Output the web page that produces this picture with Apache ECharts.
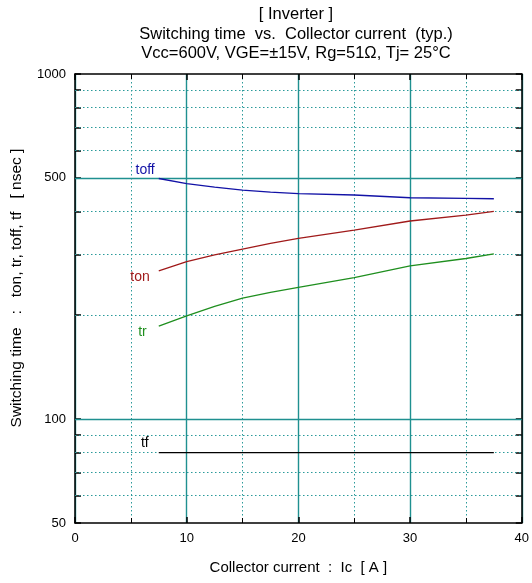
<!DOCTYPE html>
<html><head><meta charset="utf-8">
<script src="https://cdn.jsdelivr.net/npm/echarts@6/dist/echarts.min.js"></script>
<style>html,body{margin:0;padding:0;background:#fff}#c{width:532px;height:583px}</style>
</head><body><div id="c"></div>
<script>
// Collector current [A]
const current = [7.5, 10, 12.5, 15, 17.5, 20, 25, 30, 35, 37.5];
// Switching times [nsec]
const toff = [498, 481, 470, 461, 455, 450, 446, 438, 436, 435];
const ton  = [269, 286, 299, 311, 323, 334, 353, 375, 390, 400];
const tr   = [186, 199, 212, 224, 233, 241, 257, 278, 292, 301];
const tf   = [80, 80, 80, 80, 80, 80, 80, 80, 80, 80];
// Axis tick values
const yTickLabels = [50, 100, 500, 1000];
const yMajorGrid = [100, 500];
const yMinorGrid = [60, 70, 80, 90, 200, 300, 400, 600, 700, 800, 900];
const yAllTicks = [50, 60, 70, 80, 90, 100, 200, 300, 400, 500, 600, 700, 800, 900, 1000];

const FONT = "'Liberation Sans', Arial, sans-serif";
const TEAL = '#1f9090';
const TEALDOT = '#2a9a9a';

function mk(vals, labelCfg) {
  const d = current.map((x, i) => [x, vals[i]]);
  d[0] = { value: d[0], label: Object.assign({ show: true, formatter: '{a}', fontFamily: FONT, fontSize: 14 }, labelCfg) };
  return d;
}

const chart = echarts.init(document.getElementById('c'), null, { renderer: 'canvas' });
const lineSeries = (name, vals, color, labelCfg) => ({
  name, type: 'line', data: mk(vals, Object.assign({ color }, labelCfg)),
  symbol: 'circle', symbolSize: 0.01, showSymbol: true, smooth: false,
  lineStyle: { color, width: 1.3 }, itemStyle: { color }, z: 5, silent: true,
  label: { show: false }
});

chart.setOption({
  animation: false,
  backgroundColor: '#fff',
  grid: { left: 75, right: 10, top: 74, bottom: 60, show: false },
  graphic: [
    { type: 'text', x: 296, y: 5, silent: true,
      style: { text: '[ Inverter ]\nSwitching time  vs.  Collector current  (typ.)\nVcc=600V, VGE=\u00b115V, Rg=51\u03a9, Tj= 25\u00b0C',
        fill: '#000', font: '16.5px ' + FONT, textAlign: 'center', textVerticalAlign: 'top', lineHeight: 19.5 } },
    { type: 'text', x: 17, y: 288, rotation: Math.PI / 2, silent: true,
      style: { text: 'Switching time   :   ton, tr, toff, tf   [ nsec ]', fill: '#000', font: '15.5px ' + FONT,
        textAlign: 'center', textVerticalAlign: 'middle' } }
  ],
  xAxis: [
    { type: 'value', min: 0, max: 40, interval: 10, position: 'bottom',
      name: 'Collector current  :  Ic  [ A ]', nameLocation: 'middle', nameGap: 37,
      nameTextStyle: { color: '#000', fontFamily: FONT, fontSize: 15 },
      axisLine: { show: true, onZero: false, lineStyle: { color: '#000', width: 1.5 } },
      axisTick: { show: true, inside: true, length: 6, lineStyle: { color: '#000', width: 1.5 } },
      minorTick: { show: true, splitNumber: 2, length: 5, lineStyle: { color: '#000', width: 1 } },
      axisLabel: { color: '#000', fontFamily: FONT, fontSize: 13, margin: 9 },
      splitLine: { show: true, lineStyle: { color: TEAL, width: 1.4, type: 'solid' } },
      minorSplitLine: { show: true, lineStyle: { color: TEALDOT, width: 1, type: [1.5, 2.5] } }
    },
    { type: 'value', min: 0, max: 40, interval: 10, position: 'top',
      axisLine: { show: true, onZero: false, lineStyle: { color: '#000', width: 1.5 } },
      axisTick: { show: true, inside: true, length: 6, lineStyle: { color: '#000', width: 1.5 } },
      minorTick: { show: true, splitNumber: 2, length: 5, lineStyle: { color: '#000', width: 1 } },
      axisLabel: { show: false }, splitLine: { show: false }
    }
  ],
  yAxis: [
    { type: 'log', logBase: 10, min: 50, max: 1000, position: 'left',
      axisLine: { show: true, onZero: false, lineStyle: { color: '#000', width: 1.5 } },
      axisTick: { show: true, inside: true, length: 6, customValues: yAllTicks, lineStyle: { color: '#000', width: 1.5 } },
      axisLabel: { color: '#000', fontFamily: FONT, fontSize: 13, margin: 9, customValues: yTickLabels,
        formatter: v => String(Math.round(v)) },
      splitLine: { show: false }
    },
    { type: 'log', logBase: 10, min: 50, max: 1000, position: 'right',
      axisLine: { show: true, onZero: false, lineStyle: { color: '#000', width: 1.5 } },
      axisTick: { show: true, inside: true, length: 6, customValues: yAllTicks, lineStyle: { color: '#000', width: 1.5 } },
      axisLabel: { show: false }, splitLine: { show: false }
    }
  ],
  series: [
    { type: 'line', data: [], z: 1, silent: true,
      markLine: { silent: true, symbol: ['none', 'none'], label: { show: false }, animation: false,
        data: yMajorGrid.map(v => ({ yAxis: v, lineStyle: { color: TEAL, width: 1.4, type: 'solid' } }))
          .concat(yMinorGrid.map(v => ({ yAxis: v, lineStyle: { color: TEALDOT, width: 1, type: [1.5, 2.5] } }))) } },
    lineSeries('toff', toff, '#1212a6', { position: 'left', distance: 4, offset: [0, -8] }),
    lineSeries('ton', ton, '#a01a1a', { position: 'left', distance: 9, offset: [0, 6] }),
    lineSeries('tr', tr, '#1f8f1f', { position: 'left', distance: 12, offset: [0, 6] }),
    lineSeries('tf', tf, '#000000', { position: 'left', distance: 10, offset: [0, -9] })
  ]
});
</script></body></html>
